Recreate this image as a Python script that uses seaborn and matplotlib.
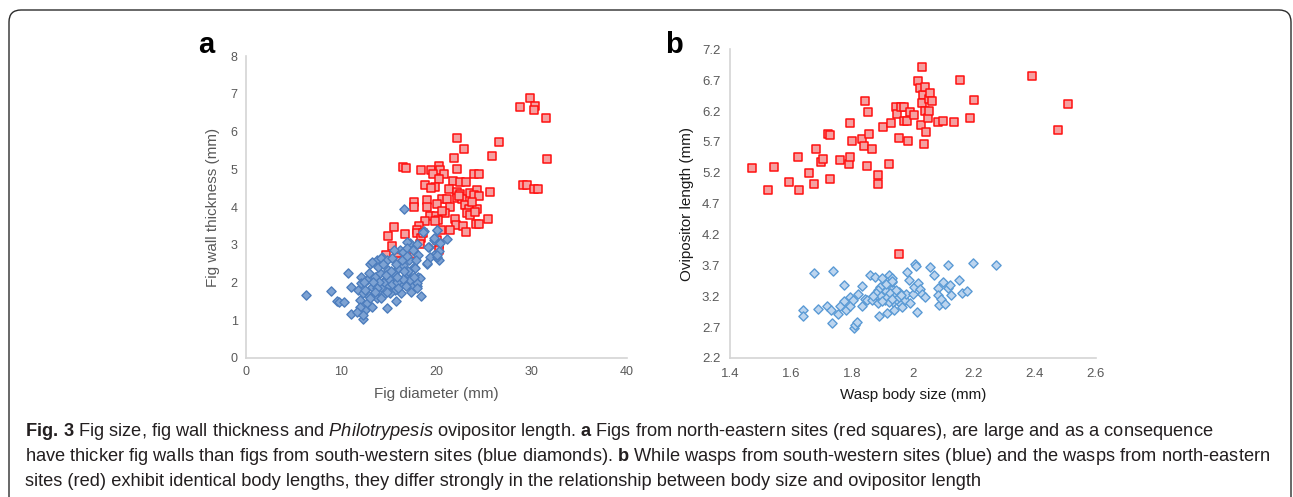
import pandas as pd
import matplotlib.pyplot as plt
import seaborn as sns
from matplotlib.patches import FancyBboxPatch

# panel a: fig diameter (mm) vs fig wall thickness (mm)
a_red_x = [29.8, 28.8, 30.3, 30.2, 31.5, 22.1, 26.6, 22.9, 25.8, 21.8, 31.6, 16.5, 16.8, 18.4, 19.4,
           20.3, 20.4, 19.6, 20.8, 20.3, 22.2, 23.96, 24.5, 21.7, 22.5, 23.05, 18.8, 19.8, 19.4, 21.3,
           22.1, 22.5, 23.5, 24.2, 25.6, 29.1, 29.5, 30.2, 30.7, 23.96, 24.5, 22.1, 22.7, 17.6, 19.0,
           20.6, 21.1, 20.1, 17.6, 19.05, 21.4, 23.0, 23.4, 24.3, 23.2, 20.9, 23.5, 19.3, 19.9, 18.8,
           20.2, 21.9, 22.0, 22.8, 24.1, 24.5, 25.4, 15.5, 16.7, 18.2, 17.9, 17.9, 20.5, 21.4, 23.1,
           14.9, 18.4, 20.0, 15.3, 18.3, 20.3, 14.7, 16.0, 17.6, 20.3, 16.0, 19.8, 23.7, 24.0, 22.4,
           20.6, 18.6]
a_red_y = [6.89, 6.65, 6.68, 6.56, 6.36, 5.84, 5.73, 5.53, 5.36, 5.30, 5.26, 5.07, 5.02, 4.99, 4.97,
           5.08, 4.97, 4.88, 4.87, 4.75, 5.00, 4.88, 4.88, 4.69, 4.66, 4.66, 4.57, 4.54, 4.51, 4.47,
           4.41, 4.35, 4.37, 4.46, 4.41, 4.59, 4.59, 4.47, 4.47, 4.31, 4.29, 4.24, 4.20, 4.13, 4.18,
           4.20, 4.20, 4.07, 4.00, 4.00, 4.00, 4.04, 3.94, 3.96, 3.84, 3.84, 3.78, 3.76, 3.76, 3.63,
           3.66, 3.68, 3.51, 3.50, 3.56, 3.56, 3.67, 3.47, 3.28, 3.49, 3.40, 3.31, 3.40, 3.38, 3.34,
           3.22, 3.19, 3.13, 2.97, 3.03, 3.01, 2.72, 2.68, 2.76, 2.85, 2.56, 3.62, 4.12, 3.88, 4.30,
           3.90, 3.30]

a_blue_x = [6.3, 8.9, 9.6, 9.8, 10.3, 11.0, 10.7, 11.0, 12.3, 16.6, 18.4, 19.0, 21.1, 20.3, 20.3,
            18.7, 20.1, 19.7, 19.2, 17.2, 16.9, 18.0, 19.7, 19.3, 20.0, 14.8, 15.7, 18.1, 17.9, 17.6,
            17.1, 16.2, 15.5, 14.3, 13.7, 13.0, 13.2, 14.2, 14.8, 15.3, 16.5, 16.9, 18.1, 17.7, 16.9,
            18.3, 17.2, 18.6, 19.1, 19.7, 20.0, 20.4, 20.0, 19.0, 17.4, 17.9, 17.6, 16.3, 15.6, 16.2,
            15.1, 14.6, 14.1, 13.5, 12.7, 12.1, 11.8, 12.0, 12.7, 12.5, 13.2, 13.7, 14.4, 14.9, 15.5,
            16.0, 16.5, 14.9, 14.2, 13.2, 12.8, 12.3, 12.1, 12.0, 11.6, 12.3, 13.9, 14.5, 15.0, 15.3,
            14.0, 13.8, 14.7, 15.8, 16.5, 16.8, 17.0, 16.0, 13.5, 14.2, 15.2, 13.0, 12.5, 12.9, 16.4,
            17.8, 15.7, 14.4, 17.3, 18.0, 16.9, 17.5, 12.4, 13.3, 14.8, 15.9, 16.6]
a_blue_y = [1.66, 1.77, 1.50, 1.48, 1.48, 1.88, 2.26, 1.17, 1.02, 3.95, 1.64, 2.48, 3.15, 2.59, 2.83,
            3.36, 3.40, 3.13, 2.94, 3.05, 3.07, 3.03, 2.72, 2.68, 2.68, 1.33, 1.51, 2.15, 1.92, 2.41,
            2.59, 2.85, 2.85, 2.68, 2.59, 2.50, 2.53, 2.64, 2.60, 2.66, 2.82, 2.91, 2.73, 2.38, 2.24,
            2.11, 2.07, 3.35, 2.95, 3.17, 3.39, 3.04, 2.73, 2.51, 1.89, 1.98, 2.15, 1.71, 1.80, 1.98,
            1.71, 2.07, 2.24, 2.15, 2.07, 2.15, 1.80, 1.54, 1.45, 1.27, 1.36, 1.58, 1.67, 1.93, 2.24,
            2.38, 2.46, 2.33, 1.89, 1.89, 1.67, 1.71, 1.98, 1.36, 1.23, 1.14, 2.42, 2.00, 2.10, 1.95,
            2.00, 1.85, 2.20, 2.00, 2.10, 1.90, 2.30, 1.85, 1.75, 1.60, 2.30, 1.60, 1.80, 2.25, 2.60,
            2.60, 2.50, 2.50, 1.75, 1.85, 2.70, 2.85, 2.00, 2.00, 1.75, 2.15, 2.30]

# panel b: wasp body size (mm) vs ovipositor length (mm)
b_red_x = [1.471, 1.526, 1.544, 1.595, 1.622, 1.626, 1.660, 1.675, 1.682, 1.698, 1.704, 1.721, 1.727,
           1.728, 1.762, 1.791, 1.795, 1.793, 1.801, 1.832, 1.838, 1.844, 1.849, 1.854, 1.855, 1.867,
           1.886, 1.886, 1.901, 1.921, 1.929, 1.943, 1.949, 1.955, 1.960, 1.972, 1.972, 1.980, 1.983,
           1.990, 2.003, 2.017, 2.022, 2.029, 2.025, 2.032, 2.031, 2.041, 2.039, 2.042, 2.037, 2.048,
           2.051, 2.053, 2.055, 2.062, 2.082, 2.099, 2.134, 2.153, 2.186, 2.200, 2.389, 2.476, 2.509,
           1.954]
b_red_y = [5.27, 4.92, 5.30, 5.05, 5.46, 4.92, 5.19, 5.02, 5.59, 5.38, 5.43, 5.82, 5.81,
           5.10, 5.41, 5.34, 5.46, 6.00, 5.72, 5.74, 5.64, 6.37, 5.31, 6.18, 5.83, 5.59,
           5.17, 5.02, 5.94, 5.34, 6.00, 6.26, 6.15, 5.77, 6.26, 6.26, 6.04, 6.04, 5.71,
           6.18, 6.14, 6.69, 6.58, 6.91, 5.97, 6.46, 6.33, 6.59, 6.20, 5.86, 5.66, 6.08,
           6.20, 6.39, 6.50, 6.36, 6.03, 6.04, 6.02, 6.70, 6.08, 6.38, 6.76, 5.90, 6.32,
           3.89]

b_blue_x = [1.674, 1.739, 1.773, 1.640, 1.638, 1.687, 1.719, 1.730, 1.736, 1.755, 1.761, 1.773, 1.780,
            1.794, 1.793, 1.804, 1.807, 1.811, 1.816, 1.821, 1.833, 1.834, 1.843, 1.849, 1.858, 1.865,
            1.875, 1.875, 1.890, 1.886, 1.897, 1.892, 1.881, 1.886, 1.903, 1.908, 1.914, 1.922, 1.925,
            1.930, 1.930, 1.932, 1.936, 1.939, 1.949, 1.955, 1.960, 1.964, 1.975, 1.977, 1.980, 1.988,
            1.990, 2.001, 2.003, 2.006, 2.009, 2.014, 2.015, 2.022, 2.031, 2.039, 2.056, 2.069, 2.083,
            2.083, 2.086, 2.097, 2.091, 2.104, 2.114, 2.116, 2.121, 2.124, 2.151, 2.160, 2.176, 2.198,
            2.271, 1.880, 1.895, 1.910, 1.915, 1.920, 1.925, 1.940, 1.945, 1.900, 1.870, 1.930, 1.955,
            1.960, 1.910, 1.930]
b_blue_y = [3.57, 3.61, 3.39, 2.98, 2.88, 2.99, 3.04, 2.98, 2.76, 2.91, 3.05, 3.12, 2.98,
            3.04, 3.19, 3.14, 2.69, 2.74, 2.78, 3.24, 3.36, 3.04, 3.16, 3.14, 3.54, 3.14,
            3.51, 3.24, 2.88, 3.09, 3.49, 3.35, 3.22, 3.30, 3.24, 3.14, 2.93, 3.55, 3.19,
            3.49, 3.32, 3.43, 3.11, 2.98, 3.14, 3.27, 3.08, 3.03, 3.14, 3.24, 3.59, 3.47,
            3.09, 3.24, 3.35, 3.73, 3.69, 2.95, 3.41, 3.32, 3.24, 3.19, 3.68, 3.54, 3.34,
            3.22, 3.06, 3.43, 3.15, 3.08, 3.70, 3.34, 3.38, 3.22, 3.46, 3.25, 3.28, 3.74,
            3.70, 3.26, 3.20, 3.28, 3.18, 3.10, 3.25, 3.20, 3.30, 3.12, 3.20, 3.15, 3.18,
            3.22, 3.40, 3.45]

a_xticks = [0, 10, 20, 30, 40]
a_yticks = [0, 1, 2, 3, 4, 5, 6, 7, 8]
b_xticks = [1.4, 1.6, 1.8, 2.0, 2.2, 2.4, 2.6]
b_xticklabels = ['1.4', '1.6', '1.8', '2', '2.2', '2.4', '2.6']
b_yticks = [2.2, 2.7, 3.2, 3.7, 4.2, 4.7, 5.2, 5.7, 6.2, 6.7, 7.2]

sns.set_theme(style='white')
plt.rcParams['font.family'] = ['Liberation Sans', 'DejaVu Sans']
plt.rcParams['mathtext.fontset'] = 'custom'
plt.rcParams['mathtext.rm'] = 'Liberation Sans'
plt.rcParams['mathtext.bf'] = 'Liberation Sans:bold'
plt.rcParams['mathtext.it'] = 'Liberation Sans:italic'

fig = plt.figure(figsize=(12.93, 4.97), dpi=100)
axA = fig.add_axes([0.1903, 0.2797, 0.2946, 0.6076])
axB = fig.add_axes([0.5646, 0.2797, 0.2830, 0.6211])

dfA_red = pd.DataFrame({'diam': a_red_x, 'wall': a_red_y})
dfA_blue = pd.DataFrame({'diam': a_blue_x, 'wall': a_blue_y})
dfB_red = pd.DataFrame({'body': b_red_x, 'ovi': b_red_y})
dfB_blue = pd.DataFrame({'body': b_blue_x, 'ovi': b_blue_y})

red_kw = dict(marker='s', s=30, color='#f5a0a0', edgecolor='#ff1010', linewidth=1.1, zorder=3)

# a
sns.scatterplot(data=dfA_red, x='diam', y='wall', ax=axA, legend=False, **red_kw)
sns.scatterplot(data=dfA_blue, x='diam', y='wall', ax=axA, legend=False, marker='D', s=22,
                color='#7da2d3', edgecolor='#4d7dbd', linewidth=1.0, zorder=4)
axA.set_xlim(0, 40)
axA.set_ylim(0, 8)
axA.set_xticks(a_xticks)
axA.set_yticks(a_yticks)
axA.set_xlabel('Fig diameter (mm)', fontsize=11, color='#595959', labelpad=6)
axA.set_ylabel('Fig wall thickness (mm)', fontsize=11, color='#595959', labelpad=8)
axA.tick_params(axis='both', labelsize=9, colors='#595959', length=0, pad=6)

# b
sns.scatterplot(data=dfB_red, x='body', y='ovi', ax=axB, legend=False, **red_kw)
sns.scatterplot(data=dfB_blue, x='body', y='ovi', ax=axB, legend=False, marker='D', s=22,
                color='#bcd5ef', edgecolor='#5b9bd5', linewidth=1.0, zorder=4)
axB.set_xlim(1.4, 2.6)
axB.set_ylim(2.2, 7.2)
axB.set_xticks(b_xticks)
axB.set_xticklabels(b_xticklabels)
axB.set_yticks(b_yticks)
axB.set_xlabel('Wasp body size (mm)', fontsize=11, color='#1a1a1a', labelpad=6)
axB.set_ylabel('Ovipositor length (mm)', fontsize=11, color='#1a1a1a', labelpad=6)
axB.tick_params(axis='both', labelsize=9.5, colors='#595959', length=3, width=0.8, pad=4)

for ax in (axA, axB):
    sns.despine(ax=ax)
    for side in ('left', 'bottom'):
        ax.spines[side].set_color('#d4d4d4')
        ax.spines[side].set_linewidth(1.2)

fig.text(198 / 1293, 1 - 53 / 497, 'a', fontsize=21, fontweight='bold', color='black')
fig.text(665 / 1293, 1 - 53 / 497, 'b', fontsize=21, fontweight='bold', color='black')

# caption
cap = [
    r'$\mathbf{Fig.}$$\,$$\mathbf{3}$ Fig size, fig wall thickness and $\mathit{Philotrypesis}$ ovipositor length. '
    r'$\mathbf{a}$ Figs from north-eastern sites (red squares), are large and as a consequence',
    r'have thicker fig walls than figs from south-western sites (blue diamonds). $\mathbf{b}$ While wasps '
    r'from south-western sites (blue) and the wasps from north-eastern',
    'sites (red) exhibit identical body lengths, they differ strongly in the relationship between body size and ovipositor length',
]
for i, line in enumerate(cap):
    fig.text(25 / 1293, 1 - (436 + 25 * i) / 497, line, fontsize=13.15, color='#231f20', va='baseline')

# frame
frame = FancyBboxPatch((0.09, -0.5), 12.82, 5.37, boxstyle='round,pad=0,rounding_size=0.12',
                       transform=fig.dpi_scale_trans, facecolor='none', edgecolor='#2b2b2b',
                       linewidth=1.0, clip_on=False)
fig.patches.append(frame)

plt.savefig('out.png', dpi=100)
